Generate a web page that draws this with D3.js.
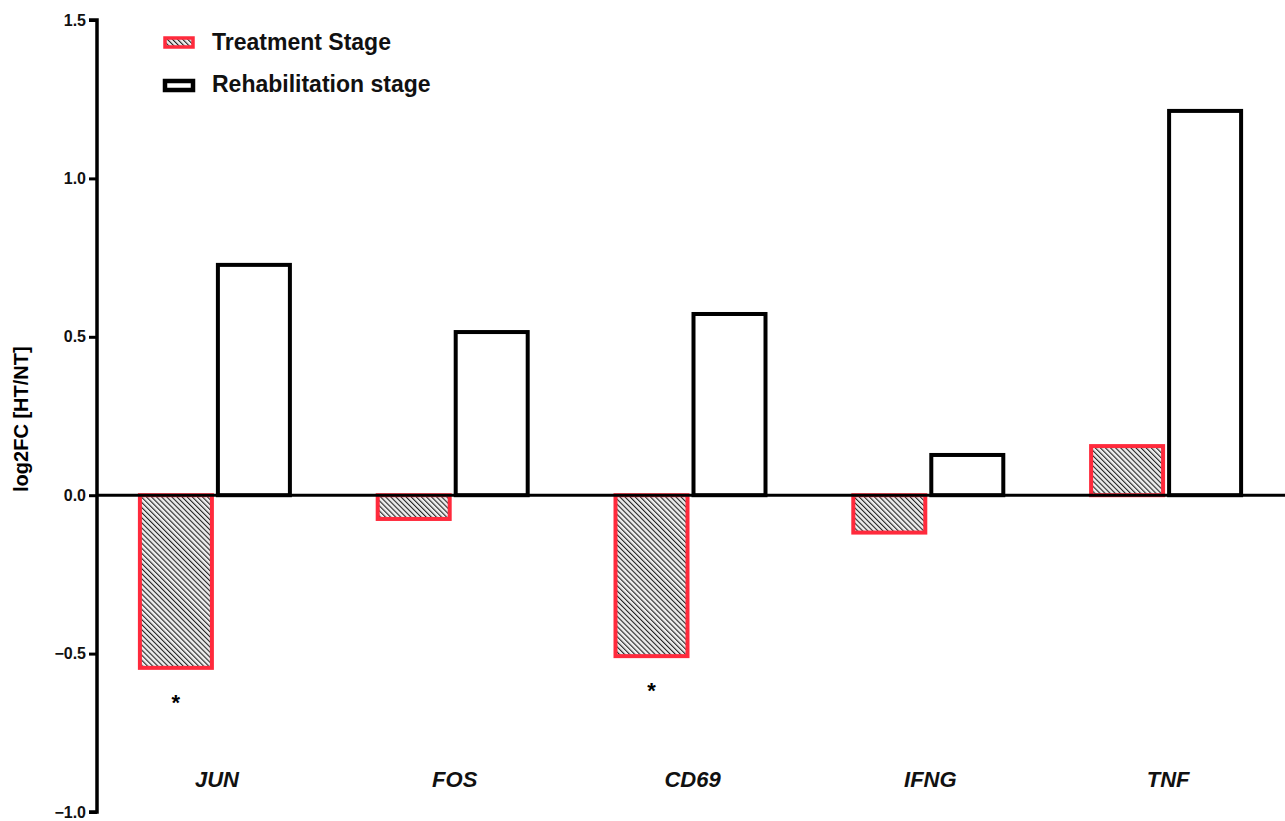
<!DOCTYPE html>
<html>
<head>
<meta charset="utf-8">
<script src="https://cdn.jsdelivr.net/npm/d3@7"></script>
<style>
html,body{margin:0;padding:0;background:#fff;}
svg{display:block;font-family:"Liberation Sans",Arial,sans-serif;}
</style>
</head>
<body>
<svg id="chart" width="1285" height="821"></svg>
<script>
const categories = ["JUN", "FOS", "CD69", "IFNG", "TNF"];
const seriesNames = ["Treatment Stage", "Rehabilitation stage"];
const treatmentValues = [-0.545, -0.075, -0.508, -0.118, 0.155];
const rehabValues = [0.727, 0.515, 0.572, 0.127, 1.213];
const significant = [true, false, true, false, false];
const yTicks = [-1.0, -0.5, 0.0, 0.5, 1.0, 1.5];

const svg = d3.select("#chart");
const defs = svg.append("defs");
const pat = defs.append("pattern")
  .attr("id", "hatch").attr("patternUnits", "userSpaceOnUse")
  .attr("width", 3.6).attr("height", 3.6)
  .attr("patternTransform", "rotate(-45)");
pat.append("rect").attr("width", 3.6).attr("height", 3.6).attr("fill", "#eeeeee");
pat.append("line").attr("x1", 0).attr("y1", 0).attr("x2", 0).attr("y2", 3.6)
  .attr("stroke", "#222").attr("stroke-width", 2.2);

const y = d3.scaleLinear().domain([-1, 1.5]).range([812, 20]);
const x0 = d3.scaleBand().domain(categories).range([96, 1285]).padding(0);
const step = x0.bandwidth();
const x1 = d3.scaleBand().domain(seriesNames).range([step / 2 - 78, step / 2 + 78]).padding(0);

const rows = categories.map((c, i) => ({cat: c, vals: [treatmentValues[i], rehabValues[i]], sig: significant[i]}));

const inset = 3;
const g = svg.append("g");
rows.forEach(r => {
  seriesNames.forEach((s, j) => {
    const v = r.vals[j];
    const yTop = y(Math.max(0, v)), yBot = y(Math.min(0, v));
    g.append("rect")
      .attr("x", x0(r.cat) + x1(s) + inset)
      .attr("width", x1.bandwidth() - 2 * inset)
      .attr("y", yTop)
      .attr("height", yBot - yTop)
      .attr("fill", j === 0 ? "url(#hatch)" : "#fff")
      .attr("stroke", j === 0 ? "#ff2a3c" : "#000")
      .attr("stroke-width", 4);
  });
  if (r.sig) {
    svg.append("text")
      .attr("x", x0(r.cat) + x1(seriesNames[0]) + x1.bandwidth() / 2)
      .attr("y", y(r.vals[0]) + 42)
      .attr("text-anchor", "middle")
      .attr("font-size", 22).attr("font-weight", "bold")
      .text("*");
  }
});

// zero line
svg.append("line").attr("x1", 97).attr("x2", 1285).attr("y1", y(0)).attr("y2", y(0))
  .attr("stroke", "#000").attr("stroke-width", 3);

// y axis
const yAxis = d3.axisLeft(y).tickValues(yTicks).tickFormat(d3.format(".1f")).tickSize(8).tickPadding(3);
const ax = svg.append("g").attr("transform", "translate(97,0)").call(yAxis);
ax.select(".domain").attr("stroke-width", 3.5).attr("d", `M-8,${y(1.5)}H0V${y(-1)}H-8`);
ax.selectAll(".tick line").attr("stroke-width", 3);
ax.selectAll(".tick text").attr("font-size", 16).attr("font-weight", "bold")
  .attr("font-family", "Liberation Sans, Arial, sans-serif").attr("fill", "#111");

svg.append("text")
  .attr("transform", `translate(28,${y(0.24)}) rotate(-90)`)
  .attr("text-anchor", "middle")
  .attr("font-size", 20).attr("font-weight", "bold")
  .text("log2FC [HT/NT]");

// category labels
svg.selectAll(".cat").data(categories).enter().append("text")
  .attr("x", d => x0(d) + step / 2 + 2)
  .attr("y", 787)
  .attr("text-anchor", "middle")
  .attr("font-size", 22).attr("font-weight", "bold").attr("font-style", "italic")
  .attr("fill", "#111")
  .text(d => d);

// legend
const leg = svg.append("g");
leg.append("rect").attr("x", 165).attr("y", 38).attr("width", 28).attr("height", 9)
  .attr("fill", "url(#hatch)").attr("stroke", "#ff2a3c").attr("stroke-width", 3.5);
leg.append("text").attr("x", 212).attr("y", 50).attr("font-size", 23).attr("font-weight", "bold").attr("fill", "#111").text(seriesNames[0]);
leg.append("rect").attr("x", 165).attr("y", 81).attr("width", 28).attr("height", 9)
  .attr("fill", "#fff").attr("stroke", "#000").attr("stroke-width", 4.5);
leg.append("text").attr("x", 212).attr("y", 92).attr("font-size", 23).attr("font-weight", "bold").attr("fill", "#111").text(seriesNames[1]);
</script>
</body>
</html>
